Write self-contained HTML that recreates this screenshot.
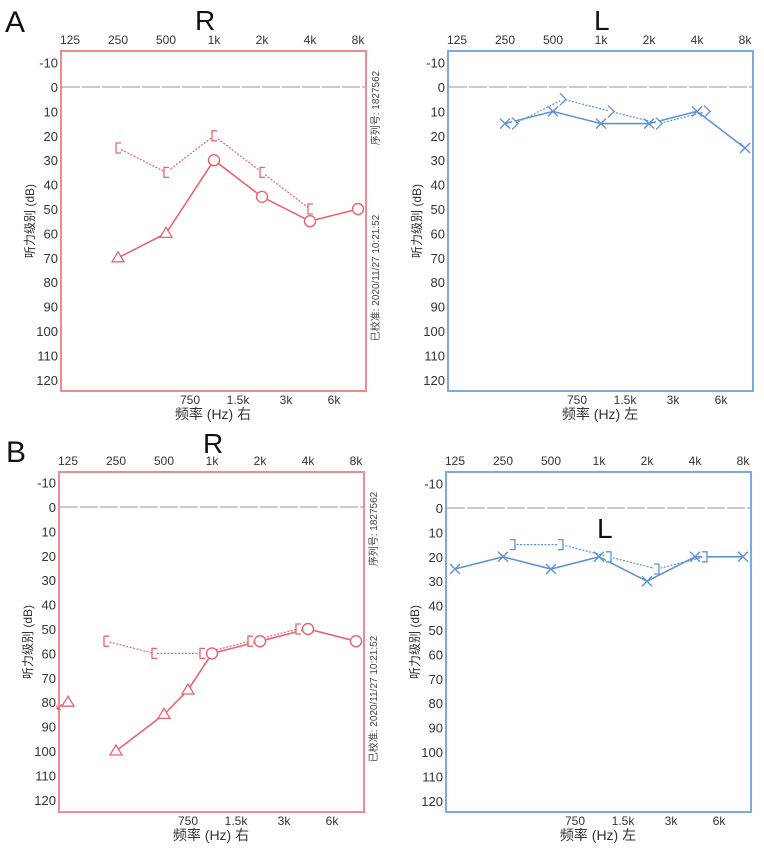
<!DOCTYPE html>
<html><head><meta charset="utf-8">
<style>
body{margin:0;background:#fff;width:764px;height:853px;overflow:hidden;font-family:"Liberation Sans","Noto Sans CJK SC",sans-serif;}
svg text{font-family:"Liberation Sans","Noto Sans CJK SC",sans-serif;}
</style></head>
<body>
<svg id="root" width="764" height="853" viewBox="0 0 764 853" xmlns="http://www.w3.org/2000/svg">
<text x="5" y="32" font-size="30" fill="#111">A</text>
<text x="195" y="30" font-size="28" fill="#111">R</text>
<text x="594" y="30" font-size="28" fill="#111">L</text>
<text x="6" y="462" font-size="30" fill="#111">B</text>
<text x="203" y="453" font-size="28" fill="#111">R</text>
<text x="597" y="538" font-size="28" fill="#111">L</text>
</svg>
<script>
// ---- data ----
const freqLabels = ["125","250","500","1k","2k","4k","8k"];
const midLabels = ["750","1.5k","3k","6k"];
const dbTicks = [-10,0,10,20,30,40,50,60,70,80,90,100,110,120];
// frequency index: 0=125,1=250,...6=8k ; 2.5 = 750
const aRacFreq = [1,2,3,4,5,6];
const aRacDb = [70,60,30,45,55,50];
const aRacSym = ["tri","tri","circ","circ","circ","circ"];
const aRbcFreq = [1,2,3,4,5];
const aRbcDb = [25,35,20,35,50];
const aLacFreq = [1,2,3,4,5,6];
const aLacDb = [15,10,15,15,10,25];
const aLbcFreq = [1,2,3,4,5];
const aLbcDb = [15,5,10,15,10];
const bRacFreq = [1,2,2.5,3,4,5,6];
const bRacDb = [100,85,75,60,55,50,55];
const bRacSym = ["tri","tri","tri","circ","circ","circ","circ"];
const bRnrFreq = [0];
const bRnrDb = [80];
const bRbcFreq = [1,2,3,4,5];
const bRbcDb = [55,60,60,55,50];
const bLacFreq = [0,1,2,3,4,5,6];
const bLacDb = [25,20,25,20,30,20,20];
const bLbcFreq = [1,2,3,4,5];
const bLbcDb = [15,15,20,25,20];

const NS="http://www.w3.org/2000/svg";
const root=document.getElementById('root');
function mk(tag,attrs,parent){const e=document.createElementNS(NS,tag);for(const k in attrs)e.setAttribute(k,attrs[k]);(parent||root).appendChild(e);return e;}

function panel(p){
  const g=mk('g',{});
  
  
  const X=f=>p.x125+f*48;
  const Y=d=>p.y0+d*2.44;
  const box=mk('rect',{x:p.bx,y:p.by,width:305,height:340,fill:'none',stroke:p.border,'stroke-width':2},g);
  
  
  const zl=mk('line',{x1:p.bx+1,x2:p.bx+304,y1:Y(0),y2:Y(0),stroke:'#aaa','stroke-width':1.2,'stroke-dasharray':'18 2'},g);
  
  
  freqLabels.forEach((l,i)=>{
    const t=mk('text',{x:X(i),y:p.by-7,'font-size':12,'text-anchor':'middle',fill:'#333'},g);t.textContent=l;
    
    
  });
  midLabels.forEach((l,i)=>{
    const t=mk('text',{x:X(2.5+i),y:p.by+353,'font-size':12,'text-anchor':'middle',fill:'#333'},g);t.textContent=l;
    
    
  });
  dbTicks.forEach(d=>{
    const t=mk('text',{x:p.bx-3,y:Y(d)+5,'font-size':13,'text-anchor':'end',fill:'#333'},g);t.textContent=d;
    
    
  });
  const xt=mk('text',{x:p.bx+152,y:p.by+368,'font-size':14,'text-anchor':'middle',fill:'#333'},g);xt.textContent='频率 (Hz) '+p.side;
  
  
  const yx=p.bx-27, yy=p.by+170;
  const yt=mk('text',{x:yx,y:yy,'font-size':12,'text-anchor':'middle',fill:'#333',transform:`rotate(-90 ${yx} ${yy})`},g);yt.textContent='听力级别 (dB)';
  
  
  if(p.meta){
    const mx=p.bx+318;
    const s=mk('text',{x:mx,y:p.by+57,'font-size':10,'text-anchor':'middle',fill:'#444',transform:`rotate(-90 ${mx} ${p.by+57})`},g);s.textContent='序列号: 1827562';
    
    
    const c=mk('text',{x:mx,y:p.by+227,'font-size':10,'text-anchor':'middle',fill:'#444',transform:`rotate(-90 ${mx} ${p.by+227})`},g);c.textContent='已校准: 2020/11/27 10:21:52';
    
    
  }
  // series lines
  function line(fr,db,off,dash,w,name){
    const pts=fr.map((f,i)=>(X(f)+off)+','+Y(db[i])).join(' ');
    const pl=mk('polyline',{points:pts,fill:'none',stroke:p.color,'stroke-width':w,'stroke-dasharray':dash},g);
    
    
  }
  line(p.bcF,p.bcD,p.bcOff,'2 1.5',1.2,'bone-conduction-line');
  line(p.acF,p.acD,0,'none',1.6,'air-conduction-line');
  // markers
  p.acF.forEach((f,i)=>{
    const cx=X(f),cy=Y(p.acD[i]);const s=p.acS?p.acS[i]:'x';let m;
    if(s==='circ'){m=mk('circle',{cx,cy,r:5.5,fill:'#fff',stroke:p.color,'stroke-width':1.4},g);}
    else if(s==='tri'){m=mk('polygon',{points:`${cx},${cy-6} ${cx-6},${cy+4} ${cx+6},${cy+4}`,fill:'#fff',stroke:p.color,'stroke-width':1.3},g);}
    else {m=mk('path',{d:`M${cx-5},${cy-5}L${cx+5},${cy+5}M${cx+5},${cy-5}L${cx-5},${cy+5}`,stroke:p.color,'stroke-width':1.4,fill:'none'},g);}
    
    
  });
  p.bcF.forEach((f,i)=>{
    const cx=X(f)+p.bcOff,cy=Y(p.bcD[i]);let d;
    if(p.bcSym==='['){d=`M${cx+3},${cy-5}H${cx-2}V${cy+5}H${cx+3}`;}
    else if(p.bcSym===']'){d=`M${cx-3},${cy-5}H${cx+2}V${cy+5}H${cx-3}`;}
    else {d=`M${cx-3},${cy-6}L${cx+3},${cy}L${cx-3},${cy+6}`;}
    const m=mk('path',{d,fill:'#fff',stroke:p.color,'stroke-width':1.3},g);
    
    
  });
  if(p.nrF){
    p.nrF.forEach((f,i)=>{
      const cx=X(f),cy=Y(p.nrD[i]);
      const m=mk('polygon',{points:`${cx},${cy-6} ${cx-6},${cy+4} ${cx+6},${cy+4}`,fill:'#fff',stroke:p.color,'stroke-width':1.3},g);
      
      
      const a=mk('path',{d:`M${cx-6},${cy+2}L${cx-11},${cy+7}M${cx-11},${cy+7}l4,0M${cx-11},${cy+7}l0,-4`,stroke:p.color,'stroke-width':1.2,fill:'none'},g);
      
      
    });
  }
}
const RED='#e8646f', BLUE='#5f93d6';
panel({name:'chart-a-right',bx:61,by:51,x125:70,y0:87,border:'#f08a92',color:RED,side:'右',meta:true,
  acF:aRacFreq,acD:aRacDb,acS:aRacSym,bcF:aRbcFreq,bcD:aRbcDb,bcOff:0,bcSym:'['});
panel({name:'chart-a-left',bx:448,by:51,x125:457,y0:87,border:'#7fa8e2',color:BLUE,side:'左',meta:false,
  acF:aLacFreq,acD:aLacDb,bcF:aLbcFreq,bcD:aLbcDb,bcOff:10,bcSym:'>'});
panel({name:'chart-b-right',bx:59,by:472,x125:68,y0:507,border:'#f08a92',color:RED,side:'右',meta:true,
  acF:bRacFreq,acD:bRacDb,acS:bRacSym,bcF:bRbcFreq,bcD:bRbcDb,bcOff:-10,bcSym:'[',nrF:bRnrFreq,nrD:bRnrDb});
panel({name:'chart-b-left',bx:446,by:472,x125:455,y0:508,border:'#7fa8e2',color:BLUE,side:'左',meta:false,
  acF:bLacFreq,acD:bLacDb,bcF:bLbcFreq,bcD:bLbcDb,bcOff:10,bcSym:']'});
</script>
</body></html>
